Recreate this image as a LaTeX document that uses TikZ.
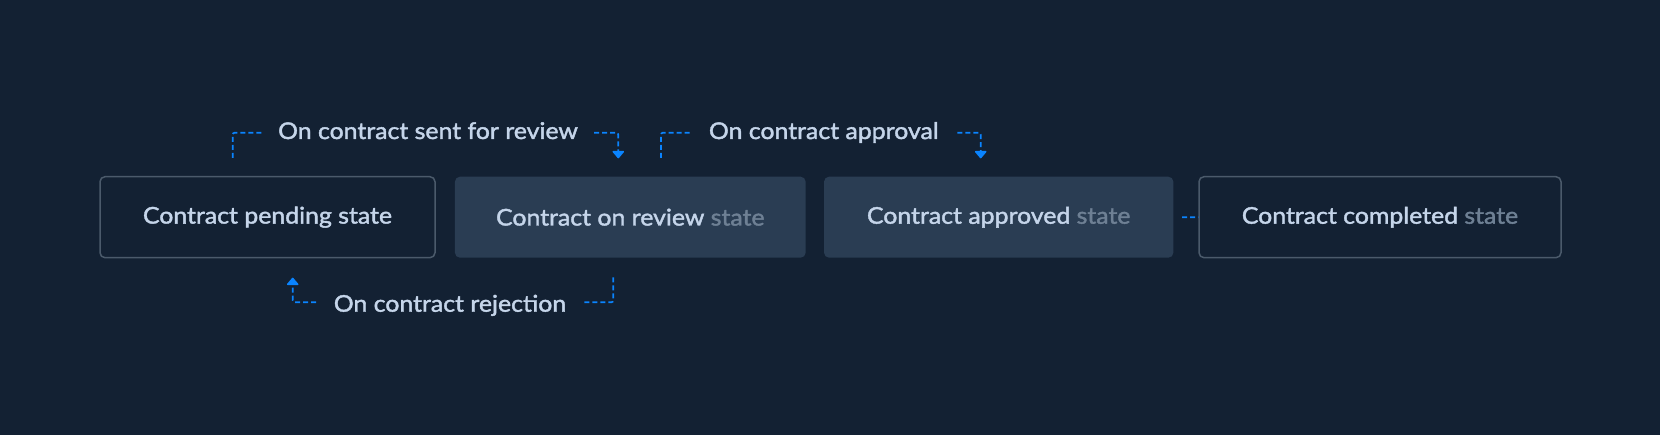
\documentclass[tikz,border=0pt]{standalone}
\usepackage{fontspec}
\setmainfont{Lato}[FakeStretch=1.08, FakeBold=1.7]
\usetikzlibrary{arrows.meta}
\definecolor{bg}{RGB}{19,33,51}
\definecolor{fillbox}{RGB}{42,61,83}
\definecolor{edgebox}{RGB}{75,90,107}
\definecolor{txt}{RGB}{197,213,234}
\definecolor{muted}{RGB}{110,128,148}
\definecolor{flow}{RGB}{10,132,255}
\tikzset{
  statebox/.style={rounded corners=5pt, minimum height=81pt, inner sep=0pt,
    text=txt, font=\fontsize{23}{26}\selectfont},
  outlinebox/.style={statebox, draw=edgebox, line width=1.5pt, fill=bg},
  solidbox/.style={statebox, fill=fillbox},
  flowline/.style={draw=flow, line width=1.7pt, dash pattern=on 5pt off 3pt, rounded corners=2pt},
  flowarrow/.style={flowline, -{Triangle[width=13pt,length=8pt,round]}},
  flowlabel/.style={text=txt, font=\fontsize{23}{26}\selectfont, inner sep=0pt, anchor=base}
}
\begin{document}
\begin{tikzpicture}[x=1pt,y=-1pt]
\fill[bg] (0,0) rectangle (1660,435);
\useasboundingbox (0,0) rectangle (1660,435);
% state boxes
\node[outlinebox, minimum width=335pt] (pending) at (267.5,217.2) {Contract pending state};
\node[solidbox, minimum width=350.7pt] (review) at (630.3,217.2) {Contract on review \textcolor{muted}{state}};
\node[solidbox, minimum width=349.3pt] (approved) at (998.7,217.2) {Contract approved \textcolor{muted}{state}};
\node[outlinebox, minimum width=362pt] (completed) at (1380,217.2) {Contract completed \textcolor{muted}{state}};
% labels
\node[flowlabel] (lsent) at (428,139) {On contract sent for review};
\node[flowlabel] (lappr) at (823.8,139) {On contract approval};
\node[flowlabel] (lrej) at (450,311.7) {On contract rejection};
% connector anchors
\coordinate (s1) at (232.7,158);
\coordinate (s1a) at (262.7,132.7);
\coordinate (s1b) at (594,132.7);
\coordinate (s1e) at (618.3,158.3);
\coordinate (s2) at (661,158);
\coordinate (s2a) at (690.7,132.7);
\coordinate (s2b) at (957.3,132.7);
\coordinate (s2e) at (980.7,158.3);
\coordinate (s3) at (613.3,277.3);
\coordinate (s3a) at (583,302.3);
\coordinate (s3b) at (316,302.3);
\coordinate (s3e) at (292.7,277.7);
\coordinate (s4) at (1182,217.3);
% connectors
\draw[flowline] (s1) |- (s1a);
\draw[flowarrow] (s1b) -| (s1e);
\draw[flowline] (s2) |- (s2a);
\draw[flowarrow] (s2b) -| (s2e);
\draw[flowline] (s3) |- (s3a);
\draw[flowarrow] (s3b) -| (s3e);
\draw[flowline] (s4) -- (completed.west);
\end{tikzpicture}
\end{document}
